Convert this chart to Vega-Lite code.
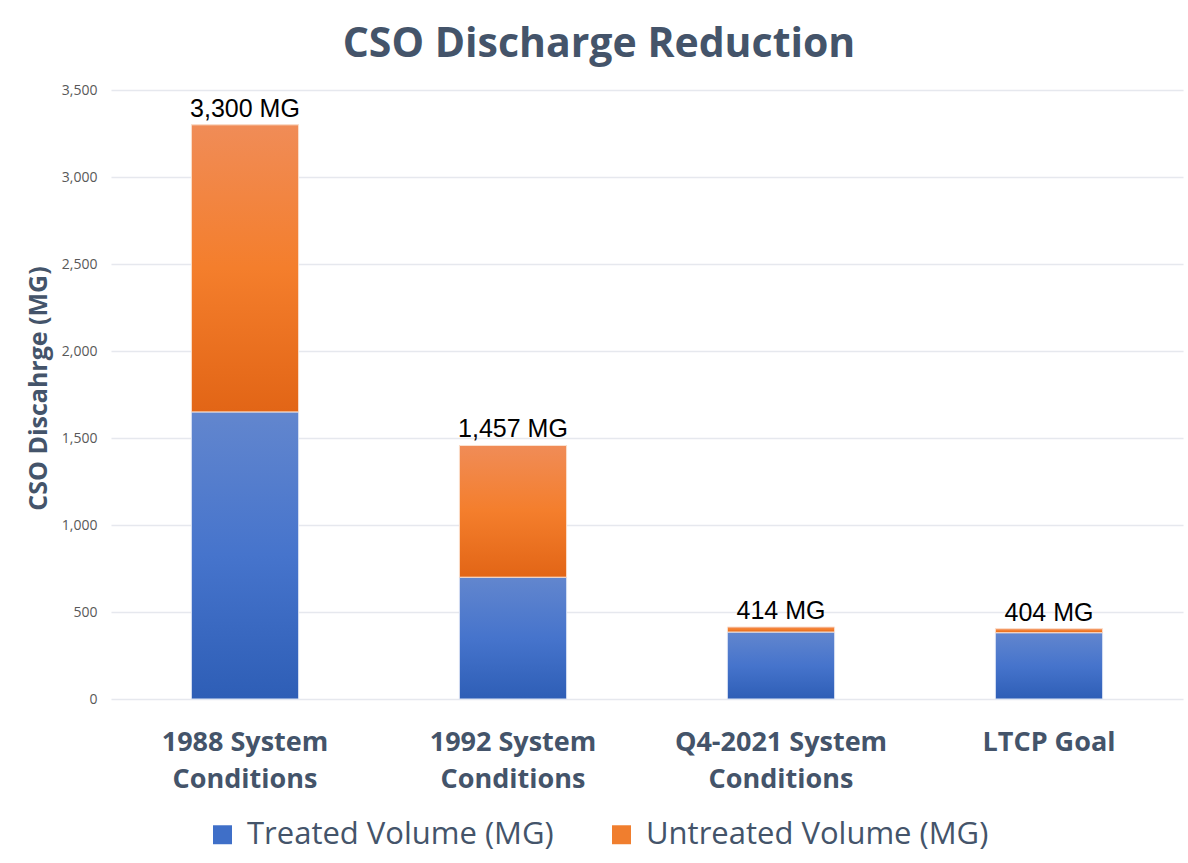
{
  "$schema": "https://vega.github.io/schema/vega-lite/v6.json",
  "width": 1072,
  "height": 609,
  "autosize": {"type": "none"},
  "padding": {"left": 111, "top": 90, "right": 5, "bottom": 164},
  "background": "white",
  "title": {
    "text": "CSO Discharge Reduction",
    "anchor": "middle",
    "frame": "group",
    "dx": -48,
    "offset": 17,
    "font": "Open Sans",
    "fontSize": 41,
    "fontWeight": "bold",
    "color": "#44546A"
  },
  "data": {
    "values": [
      {"category": "1988 System Conditions", "series": "Treated Volume (MG)", "value": 1650, "order": 1},
      {"category": "1988 System Conditions", "series": "Untreated Volume (MG)", "value": 1650, "order": 2},
      {"category": "1992 System Conditions", "series": "Treated Volume (MG)", "value": 700, "order": 1},
      {"category": "1992 System Conditions", "series": "Untreated Volume (MG)", "value": 757, "order": 2},
      {"category": "Q4-2021 System Conditions", "series": "Treated Volume (MG)", "value": 385, "order": 1},
      {"category": "Q4-2021 System Conditions", "series": "Untreated Volume (MG)", "value": 29, "order": 2},
      {"category": "LTCP Goal", "series": "Treated Volume (MG)", "value": 381, "order": 1},
      {"category": "LTCP Goal", "series": "Untreated Volume (MG)", "value": 23, "order": 2}
    ]
  },
  "encoding": {
    "x": {
      "field": "category",
      "type": "nominal",
      "sort": null,
      "scale": {"paddingInner": 0.6, "paddingOuter": 0.3},
      "axis": {
        "title": null,
        "labelAngle": 0,
        "domain": false,
        "ticks": false,
        "labelPadding": 30,
        "labelFont": "Open Sans",
        "labelFontSize": 27,
        "labelFontWeight": "bold",
        "labelColor": "#44546A",
        "labelLineHeight": 37,
        "labelBaseline": "top",
        "labelLimit": 400,
        "labelExpr": "indexof(datum.label, ' Conditions') > 0 ? [replace(datum.label, ' Conditions', ''), 'Conditions'] : datum.label"
      }
    }
  },
  "layer": [
    {
      "transform": [
        {"stack": "value", "groupby": ["category"], "sort": [{"field": "order"}], "as": ["v0", "v1"]}
      ],
      "mark": {"type": "bar"},
      "encoding": {
        "y": {
          "field": "v1",
          "type": "quantitative",
          "scale": {"domain": [0, 3500]},
          "axis": {
            "title": "CSO Discahrge (MG)",
            "values": [0, 500, 1000, 1500, 2000, 2500, 3000, 3500],
            "format": ",.0f",
            "domain": false,
            "ticks": false,
            "grid": true,
            "gridColor": "#E6E8EE",
            "gridWidth": 1.5,
            "labelPadding": 14,
            "labelFont": "Open Sans",
            "labelFontSize": 14,
            "labelColor": "#595959",
            "titleFont": "Open Sans",
            "titleFontSize": 25,
            "titleFontWeight": "bold",
            "titleColor": "#44546A",
            "titlePadding": 10,
            "titleY": 298
          }
        },
        "y2": {"field": "v0"},
        "color": {
          "field": "series",
          "type": "nominal",
          "scale": {"domain": ["Treated Volume (MG)", "Untreated Volume (MG)"], "range": ["#3F6FC8", "#F07E2E"]},
          "legend": {
            "title": null,
            "orient": "none",
            "legendX": 96,
            "legendY": 729,
            "direction": "horizontal",
            "symbolType": "square",
            "symbolSize": 360,
            "symbolStrokeWidth": 0,
            "labelFont": "Open Sans",
            "labelFontSize": 31,
            "labelColor": "#44546A",
            "labelOffset": 9,
            "columnPadding": 52,
            "labelLimit": 500
          }
        }
      }
    },
    {
      "transform": [
        {"stack": "value", "groupby": ["category"], "sort": [{"field": "order"}], "as": ["v0", "v1"]},
        {"filter": "datum.series === 'Treated Volume (MG)'"}
      ],
      "mark": {
        "type": "bar",
        "stroke": "#DCE4F4",
        "strokeWidth": 1,
        "fill": {
          "gradient": "linear",
          "x1": 0, "y1": 0, "x2": 0, "y2": 1,
          "stops": [
            {"offset": 0, "color": "#6286CE"},
            {"offset": 0.5, "color": "#4674CC"},
            {"offset": 1, "color": "#2E5EB6"}
          ]
        }
      },
      "encoding": {
        "y": {"field": "v1", "type": "quantitative"},
        "y2": {"field": "v0"}
      }
    },
    {
      "transform": [
        {"stack": "value", "groupby": ["category"], "sort": [{"field": "order"}], "as": ["v0", "v1"]},
        {"filter": "datum.series === 'Untreated Volume (MG)'"}
      ],
      "mark": {
        "type": "bar",
        "stroke": "#FBE3D3",
        "strokeWidth": 1,
        "fill": {
          "gradient": "linear",
          "x1": 0, "y1": 0, "x2": 0, "y2": 1,
          "stops": [
            {"offset": 0, "color": "#F08C57"},
            {"offset": 0.5, "color": "#F47E2C"},
            {"offset": 1, "color": "#E26516"}
          ]
        }
      },
      "encoding": {
        "y": {"field": "v1", "type": "quantitative"},
        "y2": {"field": "v0"}
      }
    },
    {
      "transform": [
        {"aggregate": [{"op": "sum", "field": "value", "as": "total"}], "groupby": ["category"]},
        {"calculate": "format(datum.total, ',') + ' MG'", "as": "label"}
      ],
      "mark": {
        "type": "text",
        "font": "Liberation Sans",
        "fontSize": 25,
        "color": "#000000",
        "baseline": "alphabetic",
        "dy": -8
      },
      "encoding": {
        "y": {"field": "total", "type": "quantitative"},
        "text": {"field": "label"}
      }
    }
  ],
  "config": {
    "view": {"stroke": null}
  }
}
